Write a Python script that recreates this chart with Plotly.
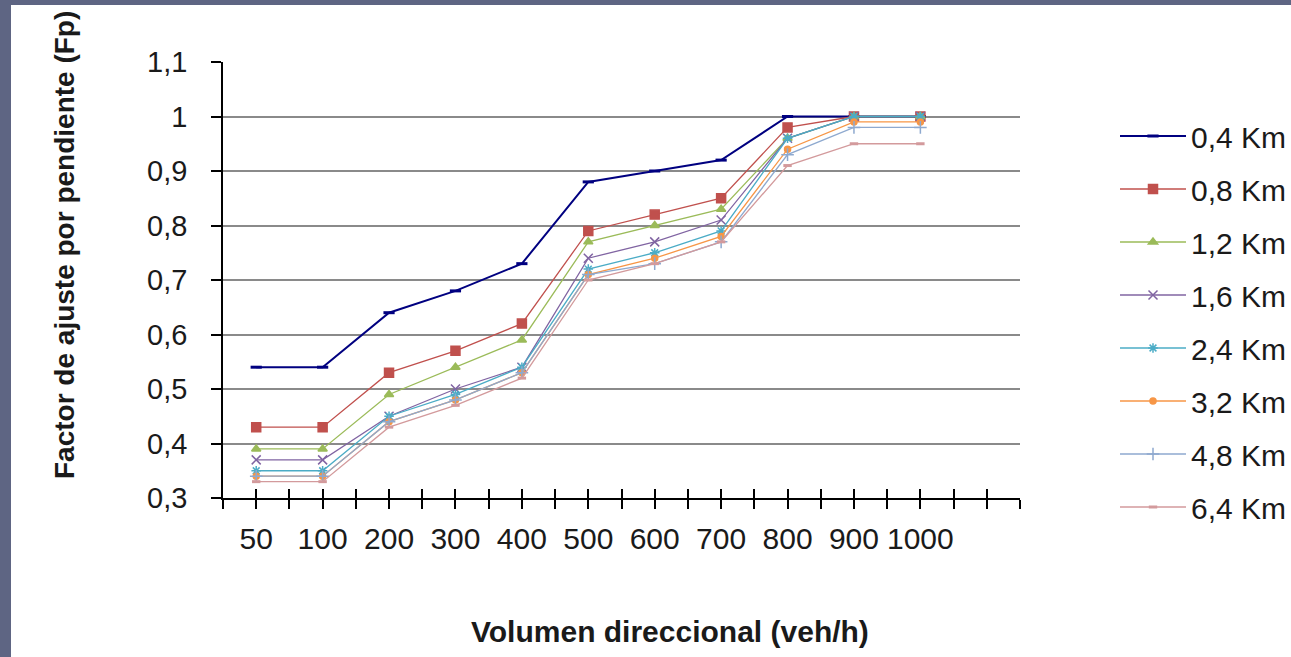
import plotly.graph_objects as go

volumen = ["50", "100", "200", "300", "400", "500", "600", "700", "800", "900", "1000"]
series_names = ["0,4 Km", "0,8 Km", "1,2 Km", "1,6 Km", "2,4 Km", "3,2 Km", "4,8 Km", "6,4 Km"]

fp_04 = [0.54, 0.54, 0.64, 0.68, 0.73, 0.88, 0.90, 0.92, 1.00, 1.00, 1.00]
fp_08 = [0.43, 0.43, 0.53, 0.57, 0.62, 0.79, 0.82, 0.85, 0.98, 1.00, 1.00]
fp_12 = [0.39, 0.39, 0.49, 0.54, 0.59, 0.77, 0.80, 0.83, 0.96, 1.00, 1.00]
fp_16 = [0.37, 0.37, 0.45, 0.50, 0.54, 0.74, 0.77, 0.81, 0.96, 1.00, 1.00]
fp_24 = [0.35, 0.35, 0.45, 0.49, 0.54, 0.72, 0.75, 0.79, 0.96, 1.00, 1.00]
fp_32 = [0.34, 0.34, 0.44, 0.48, 0.53, 0.71, 0.74, 0.78, 0.94, 0.99, 0.99]
fp_48 = [0.34, 0.34, 0.44, 0.48, 0.53, 0.71, 0.73, 0.77, 0.93, 0.98, 0.98]
fp_64 = [0.33, 0.33, 0.43, 0.47, 0.52, 0.70, 0.73, 0.77, 0.91, 0.95, 0.95]

y_ticks = [0.3, 0.4, 0.5, 0.6, 0.7, 0.8, 0.9, 1.0, 1.1]
y_ticktext = ["0,3", "0,4", "0,5", "0,6", "0,7", "0,8", "0,9", "1", "1,1"]
grid_vals = [0.4, 0.5, 0.6, 0.7, 0.8, 0.9, 1.0]

all_series = [fp_04, fp_08, fp_12, fp_16, fp_24, fp_32, fp_48, fp_64]
colors = ["#000080", "#C0504D", "#9BBB59", "#8064A2", "#4BACC6", "#F79646", "#8EA9CF", "#D39A9C"]
symbols = ["line-ew", "square", "triangle-up", "x-thin", "asterisk", "circle", "cross-thin", "line-ew"]
msizes = [8, 9, 8, 9, 8, 6, 9, 6]
lwidths = [2, 1.3, 1.3, 1.3, 1.3, 1.3, 1.3, 1.3]

n_slots = len(volumen) + 1  # empty category at the end (as in the original)
x_idx = list(range(len(volumen)))
half_ticks = [i * 0.5 - 0.5 for i in range(2 * n_slots + 1)]
half_text = []
for t in half_ticks:
    if t >= 0 and float(t).is_integer() and int(t) < len(volumen):
        half_text.append(volumen[int(t)])
    else:
        half_text.append("")

fig = go.Figure()
for i, (name, vals) in enumerate(zip(series_names, all_series)):
    fig.add_trace(go.Scatter(
        x=x_idx, y=vals, name=name, mode="lines+markers",
        legendgroup=name,
        line=dict(color=colors[i], width=lwidths[i]),
        marker=dict(symbol=symbols[i], size=msizes[i], color=colors[i],
                    line=dict(color=colors[i], width=3 if symbols[i] == "line-ew" else 1.5)),
    ))

# dummy trace for overlay axes (no marks)
fig.add_trace(go.Scatter(x=[], y=[], xaxis="x2", yaxis="y2", showlegend=False, hoverinfo="skip"))

L, R, T, B = 223, 271, 62, 159
W, H = 1291, 657
pw = W - L - R
ph = H - T - B
FONT = "Liberation Sans, Arial, sans-serif"

fig.update_layout(
    width=W, height=H,
    margin=dict(l=L, r=R, t=T, b=B, autoexpand=False),
    paper_bgcolor="#5E6583",
    plot_bgcolor="white",
    font=dict(family=FONT, color="#1a1a1a", size=29),
    xaxis=dict(
        range=[-0.5, n_slots - 0.5], tickmode="array", tickvals=half_ticks, ticktext=half_text,
        ticks="outside", ticklen=9, tickwidth=1.5, tickcolor="black",
        showline=True, linecolor="black", linewidth=1.5, showgrid=False, zeroline=False,
        ticklabelstandoff=4, tickfont=dict(size=30),
    ),
    xaxis2=dict(
        range=[-0.5, n_slots - 0.5], overlaying="x", anchor="y", tickmode="array",
        tickvals=half_ticks, ticks="inside", ticklen=9, tickwidth=1.5, tickcolor="black",
        showticklabels=False, showgrid=False, zeroline=False, showline=False,
    ),
    yaxis=dict(
        range=[0.3, 1.1], tickmode="array", tickvals=y_ticks, ticktext=y_ticktext,
        ticks="outside", ticklen=10, tickwidth=1.5, tickcolor="black",
        showline=True, linecolor="black", linewidth=1.5, showgrid=False, zeroline=False,
        ticklabelstandoff=18, tickfont=dict(size=29),
    ),
    yaxis2=dict(
        range=[0.3, 1.1], overlaying="y", anchor="x", tickmode="array", tickvals=grid_vals,
        showticklabels=False, ticks="", showgrid=True, gridcolor="#8a8a8a", gridwidth=1.5,
        zeroline=False, showline=False,
    ),
    legend=dict(
        x=(1115 - L) / pw, xanchor="left", y=(H - B - 110) / ph, yanchor="top",
        bgcolor="rgba(0,0,0,0)", font=dict(size=30), tracegroupgap=11, itemwidth=66,
    ),
    showlegend=True,
    shapes=[dict(
        type="rect", xref="paper", yref="paper", layer="below",
        x0=(11 - L) / pw, x1=(W - L + 5) / pw,
        y0=(-B - 5) / ph, y1=(H - 5 - B) / ph,
        fillcolor="white", line=dict(width=0),
    )],
    annotations=[
        dict(text="<b>Factor de ajuste por pendiente (Fp)</b>", textangle=-90,
             xref="paper", yref="paper", x=(64 - L) / pw, y=(H - B - 245) / ph,
             xanchor="center", yanchor="middle", showarrow=False,
             font=dict(size=28, color="#1a1a1a", family=FONT)),
        dict(text="<b>Volumen direccional (veh/h)</b>",
             xref="paper", yref="paper", x=(670 - L) / pw, y=(H - B - 631) / ph,
             xanchor="center", yanchor="middle", showarrow=False,
             font=dict(size=30, color="#1a1a1a", family=FONT)),
    ],
)

fig.write_html("out.html")
